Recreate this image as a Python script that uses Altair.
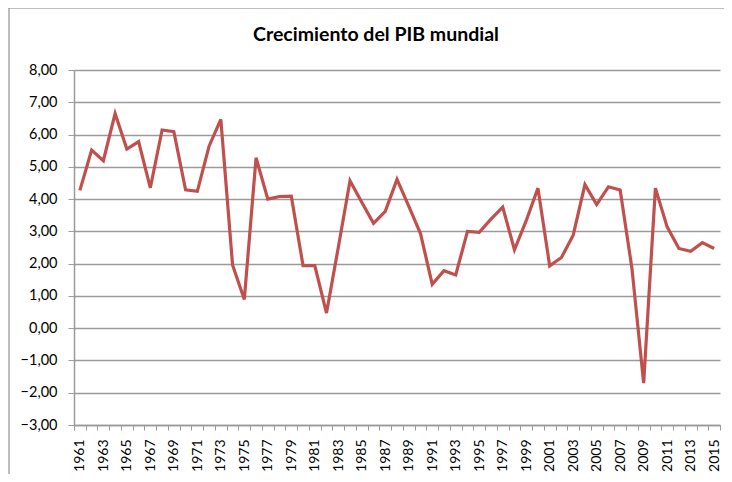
import altair as alt
import pandas as pd

years = list(range(1961, 2016))
growth = [4.27, 5.52, 5.19, 6.65, 5.55, 5.78, 4.35, 6.14, 6.09, 4.29, 4.24, 5.64, 6.47, 1.96,
          0.89, 5.28, 4.00, 4.08, 4.09, 1.94, 1.94, 0.47, 2.50, 4.57, 3.90, 3.25, 3.62, 4.61,
          3.78, 2.93, 1.36, 1.78, 1.65, 3.00, 2.97, 3.38, 3.75, 2.43, 3.33, 4.34, 1.93, 2.19,
          2.88, 4.45, 3.83, 4.38, 4.28, 1.86, -1.70, 4.34, 3.14, 2.47, 2.38, 2.65, 2.47]
y_ticks = [-3, -2, -1, 0, 1, 2, 3, 4, 5, 6, 7, 8]
title_text = "Crecimiento del PIB mundial"

df = pd.DataFrame({"year": years, "growth": growth})
frame = pd.DataFrame({"k": [0]})

FONT = "Lato"
GRID = "#9a9a9a"

line = alt.Chart(df).mark_line(color="#C0504D", strokeWidth=3.2).encode(
    x=alt.X("year:O", title=None,
            scale=alt.Scale(paddingInner=0, paddingOuter=0),
            axis=alt.Axis(labelAngle=270, labelExpr="datum.value % 2 == 1 ? datum.label : ''",
                          tickBand="extent", tickSize=5, tickColor=GRID, domainColor=GRID,
                          domainWidth=1.5, labelPadding=9, labelFont=FONT, labelFontSize=14,
                          labelColor="#000000", grid=False)),
    y=alt.Y("growth:Q", title=None,
            scale=alt.Scale(domain=[-3, 8], nice=False, zero=False),
            axis=alt.Axis(values=y_ticks,
                          labelExpr="replace(format(datum.value, '.2f'), '.', ',')",
                          tickSize=6, tickColor=GRID, domainColor=GRID, domainWidth=1.5,
                          gridColor=GRID, gridWidth=1.5, gridOpacity=1,
                          labelPadding=11, labelFont=FONT, labelFontSize=14.5,
                          labelColor="#000000")),
)

title = alt.Chart(pd.DataFrame({"t": [title_text]})).mark_text(
    font=FONT, fontSize=19.5, fontWeight="bold", color="#000000",
    align="center", baseline="middle", clip=False,
).encode(text="t:N", x=alt.value(302), y=alt.value(-35))

border_top = alt.Chart(frame).mark_rule(color="#a8a8a8", strokeWidth=1.5, clip=False).encode(
    x=alt.value(-66), x2=alt.value(700), y=alt.value(-62), y2=alt.value(-62))
border_left = alt.Chart(frame).mark_rule(color="#a8a8a8", strokeWidth=1.5, clip=False).encode(
    x=alt.value(-65), x2=alt.value(-65), y=alt.value(-62), y2=alt.value(420))

chart = alt.layer(border_top, border_left, title, line).properties(
    width=646, height=355,
    autosize=alt.AutoSizeParams(type="none"),
    padding={"left": 66, "top": 62, "right": 4, "bottom": 49},
).configure_view(stroke=None)

chart.save("out.html", embed_options={"renderer": "svg", "actions": False})
